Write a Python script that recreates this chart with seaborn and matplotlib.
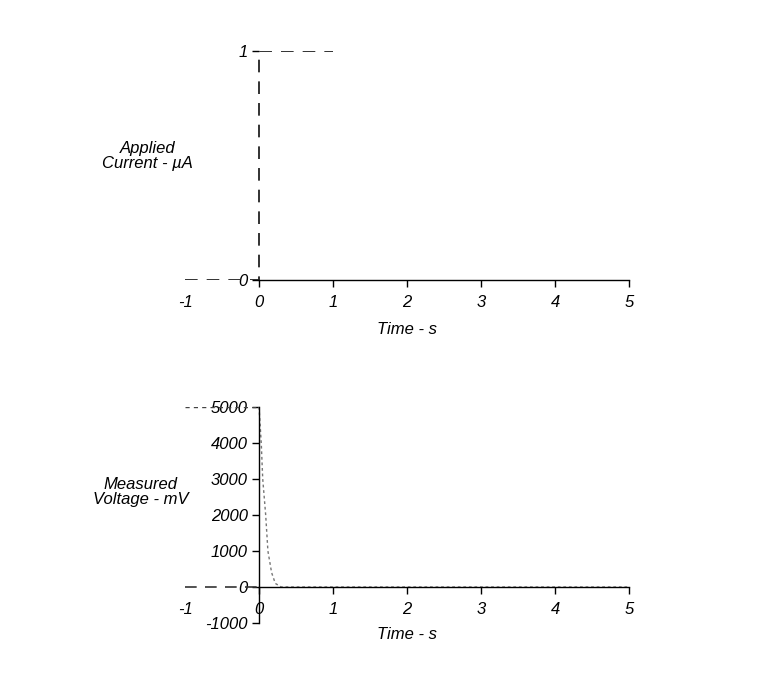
import numpy as np
import pandas as pd
import matplotlib
matplotlib.use('Agg')
import matplotlib.pyplot as plt
import seaborn as sns

# applied current step (dashed trace)
t_current = [-1, 0, 0, 1]
current = [0, 0, 1, 1]

# measured voltage response (dotted trace)
t_voltage = [0, 0.03, 0.05, 0.09, 0.12, 0.17, 0.22, 0.3, 5]
voltage = [5000, 4000, 3000, 2000, 1000, 400, 100, 0, 0]

# baseline / initial level segments before t=0 (dashed)
t_pre = [-1, 0]
v_pre_low = [0, 0]
v_pre_high = [5000, 5000]

x_ticks = [-1, 0, 1, 2, 3, 4, 5]
cur_ticks = [0, 1]
volt_ticks = [-1000, 0, 1000, 2000, 3000, 4000, 5000]

sns.set_style('white')
plt.rcParams['font.family'] = ['Liberation Sans', 'DejaVu Sans']
plt.rcParams['font.style'] = 'italic'
plt.rcParams['font.size'] = 12
plt.rcParams['axes.unicode_minus'] = False
plt.rcParams['text.color'] = 'black'
plt.rcParams['axes.labelcolor'] = 'black'

fig = plt.figure(figsize=(7.69, 7.0), dpi=100)
ax1 = fig.add_axes([0.2406, 0.60, 0.5774, 0.327])
ax2 = fig.add_axes([0.2406, 0.11, 0.5774, 0.3086])

# top panel
sns.lineplot(x=t_current, y=current, sort=False, estimator=None, ax=ax1,
             color='#222222', linestyle=(0, (7, 5)), linewidth=1.3)
ax1.set_xlim(-1, 5)
ax1.set_ylim(0, 1)

# bottom panel
sns.lineplot(x=t_voltage, y=voltage, sort=False, estimator=None, ax=ax2,
             color='#777777', linestyle=(0, (2, 2)), linewidth=1.0)
sns.lineplot(x=t_pre, y=v_pre_low, estimator=None, ax=ax2, color='#333333',
             linestyle=(0, (7, 5)), linewidth=1.2)
sns.lineplot(x=t_pre, y=v_pre_high, estimator=None, ax=ax2, color='#444444',
             linestyle=(0, (3, 3)), linewidth=1.0)
ax2.set_xlim(-1, 5)
ax2.set_ylim(-1000, 5000)

for ax, yt, ylab, ylc, xlc in [
        (ax1, cur_ticks, 'Applied\nCurrent - µA', (-0.085, 0.54), -0.185),
        (ax2, volt_ticks, 'Measured\nVoltage - mV', (-0.10, 0.605), -0.02)]:
    for s in ['top', 'right']:
        ax.spines[s].set_visible(False)
    ax.spines['left'].set_position(('data', 0))
    ax.spines['bottom'].set_position(('data', 0))
    ax.spines['bottom'].set_bounds(0, 5)
    ax.spines['left'].set_bounds(yt[0], yt[-1])
    for s in ['left', 'bottom']:
        ax.spines[s].set_color('black')
        ax.spines[s].set_linewidth(1.0)
    ax.set_xticks(x_ticks)
    ax.set_yticks(yt)
    ax.tick_params(axis='both', direction='out', length=5, width=1, pad=3,
                   colors='black', bottom=True, left=True, labelsize=12)
    ax.tick_params(axis='x', pad=6)
    ax.xaxis.get_major_ticks()[0].tick1line.set_visible(False)
    ax.patch.set_alpha(0)
    ax.set_ylabel(ylab, rotation=0, ha='center', va='center', fontsize=12,
                  linespacing=1.0)
    ax.yaxis.set_label_coords(*ylc)
    ax.set_xlabel('Time - s', fontsize=12)
    ax.xaxis.set_label_coords(0.5, xlc)

# in the top panel the vertical axis is only the dashed step itself
ax1.spines['left'].set_visible(False)

plt.savefig('out.png', dpi=100)
